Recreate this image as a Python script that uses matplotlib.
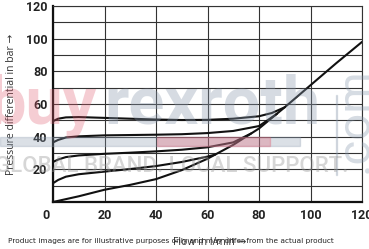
import numpy as np
import matplotlib.pyplot as plt
import matplotlib.transforms as mtransforms

# envelope curve (fully open) and the four set-pressure curves
flow_env = [0, 10, 20, 30, 40, 50, 60, 70, 80, 90, 100, 110, 120]
dp_env = [0, 3.5, 7.5, 10.5, 14, 19.5, 26.5, 35, 45, 58, 71.5, 85, 98]

flow_c2 = [0, 2, 5, 10, 20, 30, 40, 50, 60, 63]
dp_c2 = [11.5, 13.5, 15.5, 17, 18.6, 20.2, 22, 24.5, 27.8, 29]

flow_c3 = [0, 2, 5, 10, 20, 30, 40, 50, 60, 70, 77]
dp_c3 = [24.5, 26, 27.5, 28.5, 29.5, 30.2, 31, 32, 33.5, 36.5, 42]

flow_c4 = [0, 2, 5, 10, 20, 30, 40, 50, 60, 70, 80, 87]
dp_c4 = [36.5, 38, 39.5, 40.2, 40.8, 41, 41.2, 41.5, 42.2, 43.5, 46.5, 54]

flow_c5 = [0, 2, 5, 10, 20, 30, 40, 50, 60, 70, 80, 85, 90]
dp_c5 = [49.5, 51, 51.8, 52, 51.5, 51, 50.5, 50.2, 50.3, 51, 52.5, 54.5, 58]

xticks = [0, 20, 40, 60, 80, 100, 120]
yticks = [20, 40, 60, 80, 100, 120]

fig = plt.figure(figsize=(3.69, 2.49), dpi=100)
ax = fig.add_axes([53/369, 1-202/249, 309/369, 196/249])

for fx, dy in [(flow_env, dp_env), (flow_c2, dp_c2), (flow_c3, dp_c3),
               (flow_c4, dp_c4), (flow_c5, dp_c5)]:
    ax.plot(fx, dy, color='#111111', lw=1.5, solid_capstyle='round', zorder=3)

ax.set_xlim(0, 120)
ax.set_ylim(0, 120)
ax.set_xticks(xticks)
ax.set_yticks(yticks)
ax.set_xticks(np.arange(0, 121, 20), minor=True)
ax.set_yticks(np.arange(0, 121, 10), minor=True)
ax.grid(which='both', color='#333333', lw=0.8)
ax.set_axisbelow(True)
ax.tick_params(which='both', length=0)
ax.tick_params(axis='x', pad=5)
ax.tick_params(axis='y', pad=4)
for lab in ax.get_xticklabels() + ax.get_yticklabels():
    lab.set_fontfamily('Roboto')
    lab.set_fontweight('bold')
    lab.set_fontsize(9)
    lab.set_color('#222222')
# "0" sits left of the axis corner
x0 = ax.get_xticklabels()[0]
x0.set_transform(x0.get_transform() + mtransforms.ScaledTranslation(-7/100, 0, fig.dpi_scale_trans))

for s in ['left', 'bottom']:
    ax.spines[s].set_linewidth(1.6)
    ax.spines[s].set_color('#111111')
for s in ['top', 'right']:
    ax.spines[s].set_linewidth(0.8)
    ax.spines[s].set_color('#333333')

lab_fam = ['Open Sans', 'DejaVu Sans']
ax.set_ylabel('Pressure differential in bar →', family=lab_fam, fontsize=7.5,
              color='#333333', labelpad=6)

# watermark
fig.text(-12/369, 1-123/249, 'buy', fontfamily='Roboto', fontweight='bold', fontsize=48,
         color='#e05a6e', alpha=0.3, zorder=10)
fig.text(104/369, 1-123/249, 'rexroth', fontfamily='Roboto', fontweight='bold', fontsize=48,
         color='#8a9aae', alpha=0.35, zorder=10)
fig.patches.append(plt.Rectangle((0, 1-146/249), 300/369, 9/249, transform=fig.transFigure,
                                 color='#8a9aae', alpha=0.3, zorder=10))
fig.patches.append(plt.Rectangle((157/369, 1-146/249), 113/369, 9/249, transform=fig.transFigure,
                                 color='#e05a6e', alpha=0.3, zorder=11))
fig.text(-5/369, 1-172/249, 'GLOBAL BRAND. LOCAL SUPPORT.', fontfamily='Roboto', fontweight='medium',
         fontsize=16, color='#999999', alpha=0.4, zorder=10)
fig.text(355/369, 1-120/249, '.com', rotation=90, ha='center', va='center', fontfamily='Roboto',
         fontsize=34, color='#8a9aae', alpha=0.35, zorder=10)
fig.patches.append(plt.Rectangle((336/369, 1-175/249), 1/369, 80/249, transform=fig.transFigure,
                                 color='#8a9aae', alpha=0.3, zorder=10))

fig.text(210/369, 1-242/249, 'Flow in l/min →', ha='center', va='center', family=lab_fam,
         fontsize=7.5, color='#333333')
fig.text(8/369, 1-241/249, 'Product images are for illustrative purposes only and may differ from the actual product',
         ha='left', va='center', fontsize=5.3, color='#222222')

fig.savefig('out.png', dpi=100)
